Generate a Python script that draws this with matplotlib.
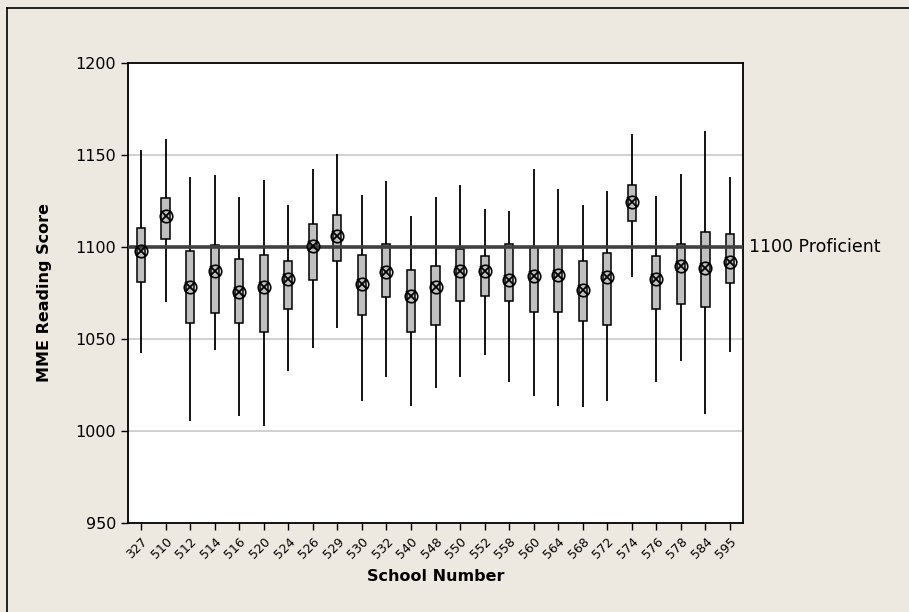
import matplotlib.pyplot as plt
from matplotlib.lines import Line2D

# MME reading scores by school: whisker ends, box quartiles and mean
schools = ['327', '510', '512', '514', '516', '520', '524', '526', '529', '530',
           '532', '540', '548', '550', '552', '558', '560', '564', '568', '572',
           '574', '576', '578', '584', '595']
whisker_hi = [1152.7, 1158.6, 1138.2, 1138.9, 1127.0, 1136.4, 1122.7, 1142.4, 1150.3, 1127.9,
              1135.5, 1116.5, 1127.0, 1133.7, 1120.8, 1119.2, 1142.4, 1131.3, 1122.7, 1130.4,
              1161.3, 1127.7, 1139.8, 1163.0, 1138.0]
q3 = [1110.5, 1126.8, 1097.5, 1100.8, 1093.2, 1095.7, 1092.3, 1112.2, 1117.4, 1095.7,
      1101.7, 1087.2, 1089.8, 1099.1, 1095.0, 1101.7, 1100.1, 1100.1, 1092.3, 1096.6,
      1133.7, 1095.0, 1101.7, 1107.8, 1106.9]
q1 = [1081.0, 1104.4, 1058.8, 1063.9, 1058.8, 1053.6, 1066.4, 1082.0, 1092.5, 1063.0,
      1072.6, 1053.6, 1057.8, 1070.8, 1073.3, 1070.8, 1064.8, 1064.8, 1059.8, 1057.8,
      1113.8, 1066.4, 1069.1, 1067.4, 1080.4]
whisker_lo = [1042.4, 1070.0, 1005.2, 1044.2, 1007.9, 1002.6, 1032.8, 1044.9, 1056.0, 1016.5,
              1029.4, 1013.8, 1023.2, 1029.4, 1041.3, 1026.7, 1019.1, 1013.8, 1012.9, 1016.5,
              1083.6, 1026.7, 1037.9, 1009.0, 1043.0]
means = [1098.0, 1116.9, 1078.2, 1086.9, 1075.5, 1078.2, 1082.3, 1100.6, 1105.9, 1080.0,
         1086.5, 1073.1, 1078.2, 1086.9, 1086.9, 1082.2, 1084.2, 1084.5, 1076.4, 1083.4,
         1124.6, 1082.5, 1089.4, 1088.3, 1091.8]
proficient = 1100

bg = '#EDE9E0'
fig = plt.figure(figsize=(9.09, 6.12), dpi=100, facecolor=bg)
ax = fig.add_axes([0.1408, 0.1454, 0.6766, 0.7521])
ax.set_facecolor('white')

pos = list(range(1, len(schools) + 1))

# reference gridlines
for g in [1000, 1050, 1150]:
    ax.axhline(g, color='#C8C8C8', lw=1.2, zorder=0)

ax.vlines(pos, whisker_lo, whisker_hi, color='black', lw=1.3, zorder=2)
ax.bar(pos, [h - l for h, l in zip(q3, q1)], bottom=q1, width=0.33,
       color='#C0C0C0', edgecolor='black', linewidth=1.1, zorder=3)

ax.axhline(proficient, color='#404040', lw=2.6, zorder=4)

# mean symbol: circle with a cross
ax.plot(pos, means, linestyle='none', marker='o', ms=9, mfc='none',
        mec='black', mew=1.2, zorder=5)
ax.plot(pos, means, linestyle='none', marker='x', ms=6.5, mec='black',
        mew=1.3, zorder=5)

ax.text(1.01, proficient, '1100 Proficient', transform=ax.get_yaxis_transform(),
        va='center', ha='left', fontsize=12.5, color='black')

ax.set_xlim(0.47, 25.53)
ax.set_ylim(950, 1200)
ax.set_yticks([950, 1000, 1050, 1100, 1150, 1200])
ax.set_xticks(pos)
ax.set_xticklabels(schools, rotation=45, ha='right', rotation_mode='anchor', fontsize=9)
ax.tick_params(axis='y', labelsize=11.5, length=5, width=1, direction='out')
ax.tick_params(axis='x', length=5, width=1, direction='out')
for s in ax.spines.values():
    s.set_linewidth(1.3)

ax.set_ylabel('MME Reading Score', fontsize=11.5, fontweight='bold', labelpad=17)
ax.set_xlabel('School Number', fontsize=11.5, fontweight='bold', labelpad=6)

# outer frame along top and left
fig.add_artist(Line2D([7 / 909, 7 / 909], [0, 1 - 8 / 612], color='black', lw=1.2))
fig.add_artist(Line2D([7 / 909, 1], [1 - 8 / 612, 1 - 8 / 612], color='black', lw=1.2))

fig.savefig('out.png', dpi=100, facecolor=bg)
